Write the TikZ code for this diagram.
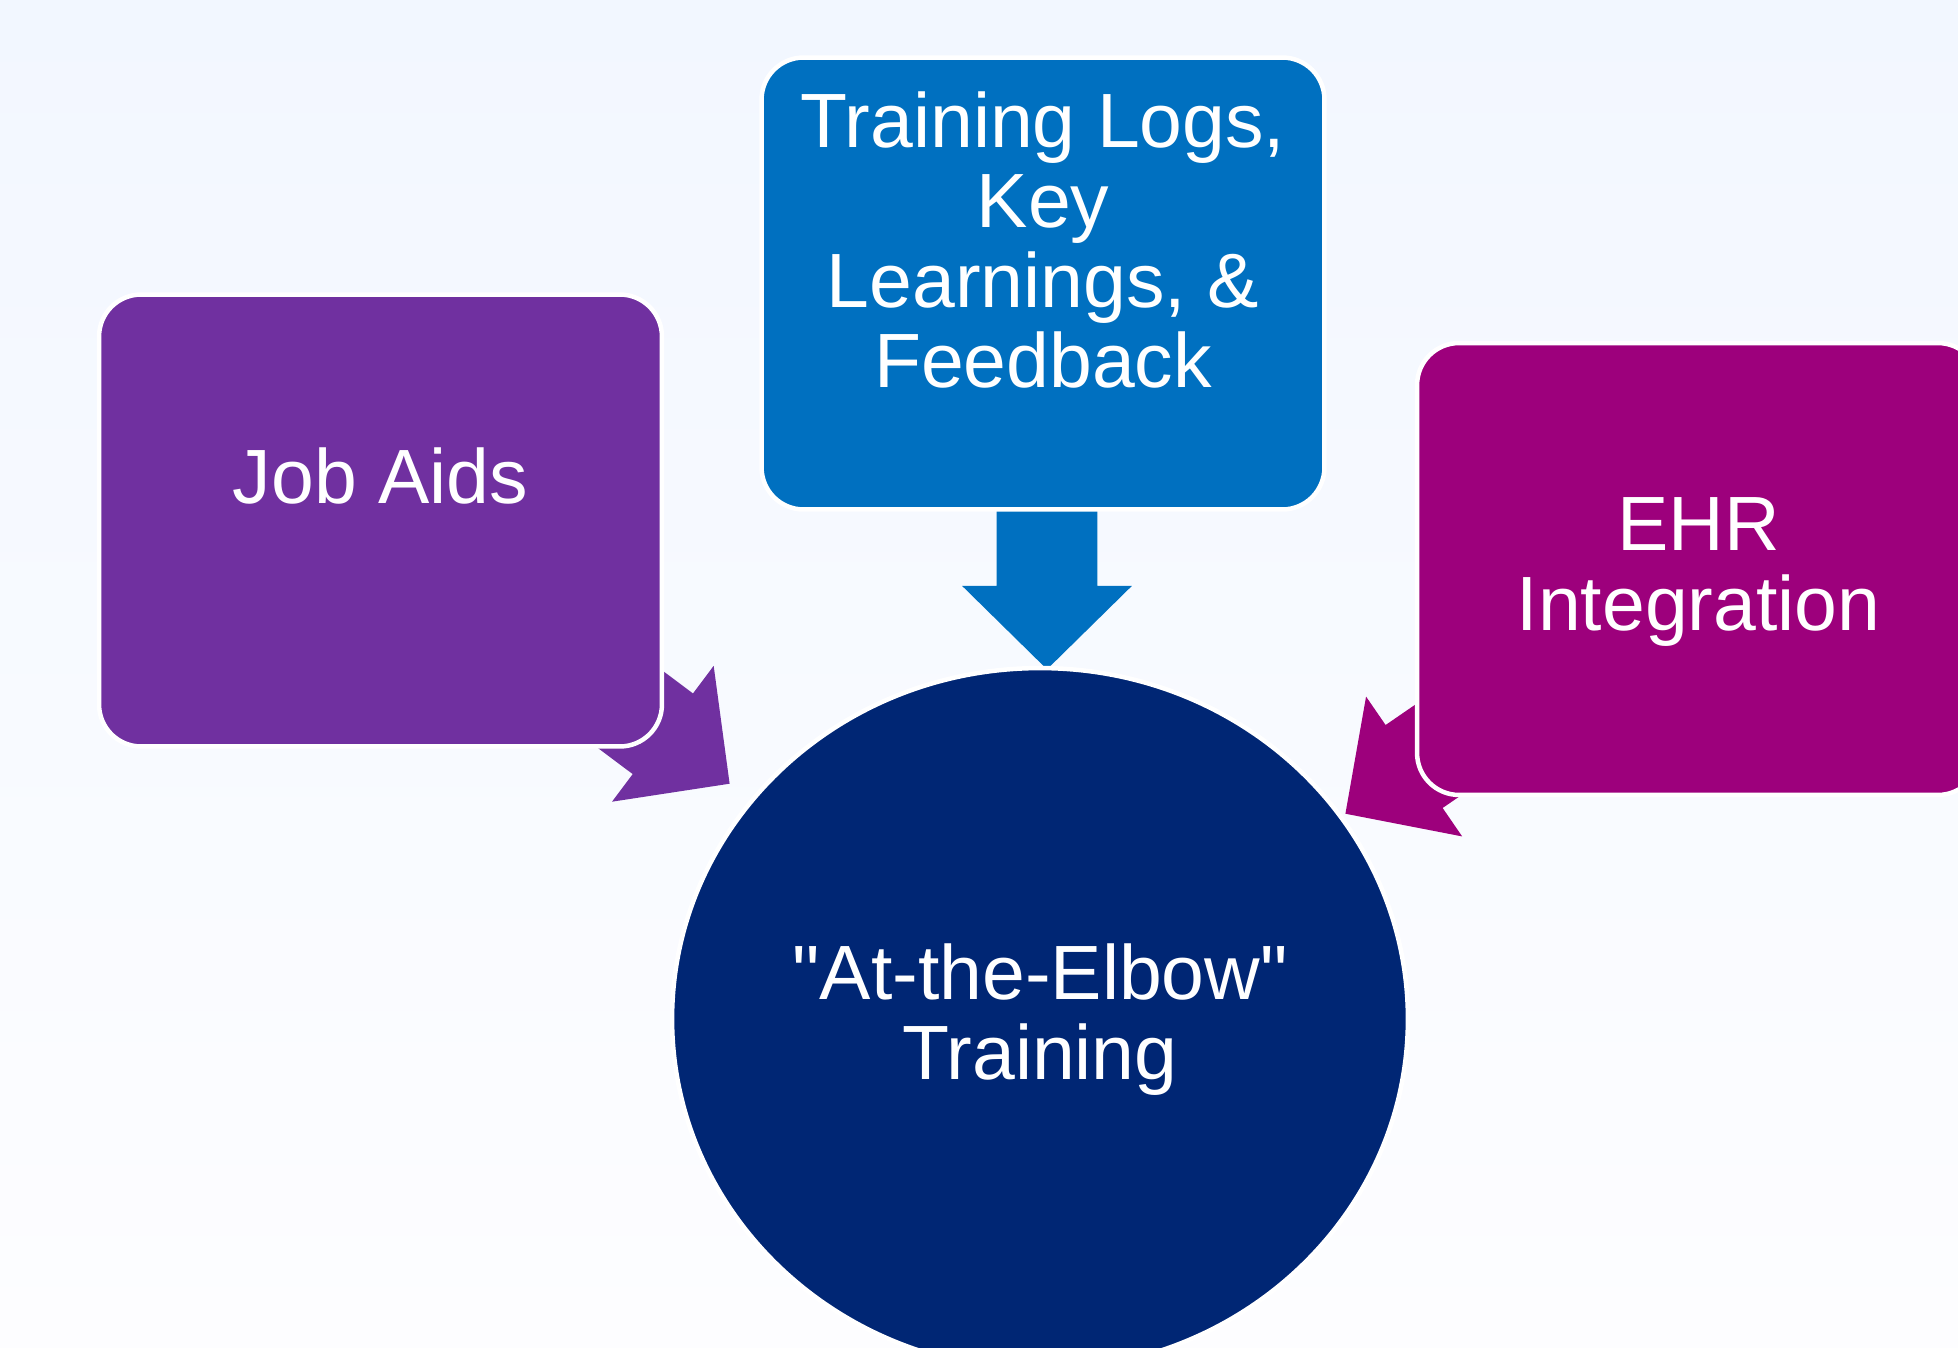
\documentclass[tikz,border=0pt]{standalone}
\usepackage{fontspec}
\setmainfont{Liberation Sans}[Ligatures=TeXOff]
\usetikzlibrary{positioning,shapes.geometric,shapes.arrows}
\definecolor{jobpurple}{RGB}{112,48,160}
\definecolor{logblue}{RGB}{0,112,192}
\definecolor{ehrmagenta}{RGB}{157,0,124}
\definecolor{elbownavy}{RGB}{0,38,116}
\definecolor{bgtop}{RGB}{242,247,255}
\definecolor{bgbottom}{RGB}{253,253,255}
\pgfdeclarelayer{background}
\pgfdeclarelayer{arrows}
\pgfsetlayers{background,arrows,main}
\tikzset{
  itembox/.style={rectangle, rounded corners=0.84cm, draw=white, line width=0.09cm,
    minimum width=11.26cm, minimum height=9.04cm, inner sep=0pt},
  boxtext/.style={text=white, align=center, font=\fontsize{43.8}{45.5}\selectfont},
  flowarrow/.style={single arrow, draw=none, inner xsep=0pt, inner ysep=1cm,
    single arrow head extend=0.69cm, single arrow tip angle=91,
    minimum height=#1, anchor=tip}
}
\begin{document}
\begin{tikzpicture}[x=0.02cm, y=0.02cm]
\useasboundingbox (0,0) rectangle (1958,-1348);
\begin{pgfonlayer}{background}
\shade[top color=bgtop, bottom color=bgbottom] (0,0) rectangle (1958,-1348);
\end{pgfonlayer}
\clip (0,0) rectangle (1958,-1348);
% boxes
\node[itembox, fill=jobpurple] (jobaids) at (380.5,-520.5) {};
\node[itembox, fill=logblue] (logs) at (1043,-283.5) {};
\node[itembox, fill=ehrmagenta] (ehr) at (1698.5,-569) {};
\node[ellipse, draw=white, line width=0.09cm, fill=elbownavy,
  minimum width=14.72cm, minimum height=14.04cm, inner sep=0pt] (elbow) at (1040,-1019) {};
% texts
\node[boxtext] (jobaids-text) at ([yshift=0.89cm]jobaids.center) {Job Aids};
\node[boxtext] (logs-text) at ([yshift=0.87cm]logs.center) {Training Logs,\\Key\\Learnings, \&\\Feedback};
\node[boxtext] (ehr-text) at ([yshift=-0.06cm]ehr.center) {EHR\\Integration};
\node[boxtext] (elbow-text) at ([yshift=-0.02cm]elbow.center) {"At-the-Elbow"\\Training};
% arrows
\begin{pgfonlayer}{arrows}
\node[flowarrow=3.2cm, fill=logblue, rotate=-90] (logs-arrow) at ([xshift=0.14cm, yshift=-0.08cm]elbow.north) {};
\node[flowarrow=3.88cm, fill=jobpurple, rotate=-36.8] (jobaids-arrow) at (730,-784) {};
\node[flowarrow=3.88cm, fill=ehrmagenta, rotate=-145.5] (ehr-arrow) at (1345,-814) {};
\end{pgfonlayer}
\end{tikzpicture}
\end{document}
